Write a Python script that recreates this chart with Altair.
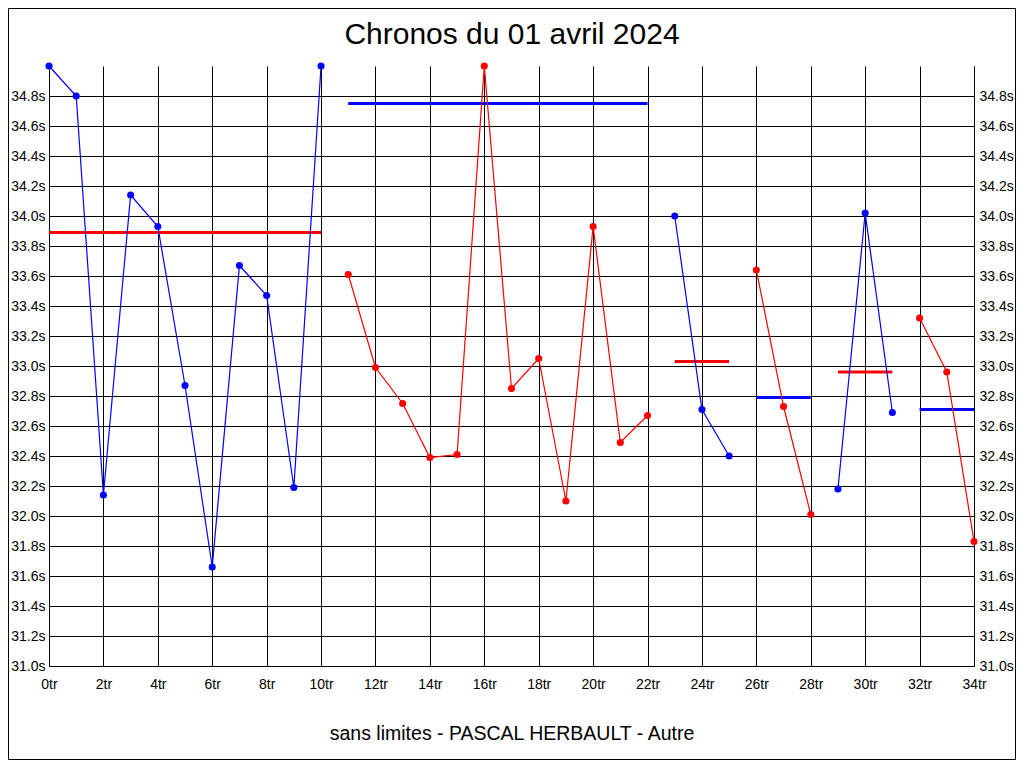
import altair as alt
import pandas as pd

# ---- data ----
laps = list(range(35))
times = [35.00, 34.80, 32.14, 34.14, 33.93, 32.87, 31.66, 33.67, 33.47, 32.19, 35.00,
         33.61, 32.99, 32.75, 32.39, 32.41, 35.00, 32.85, 33.05, 32.10, 33.93, 32.49, 32.67,
         34.00, 32.71, 32.40,
         33.64, 32.73, 32.01,
         32.18, 34.02, 32.69,
         33.32, 32.96, 31.83]
seg_start = [0, 11, 23, 26, 29, 32]
seg_end = [10, 22, 25, 28, 31, 34]
seg_color = ["#0000FF", "#FF0000", "#0000FF", "#FF0000", "#0000FF", "#FF0000"]
mean_time = [33.89, 34.75, 33.03, 32.79, 32.96, 32.71]
mean_color = ["#FF0000", "#0000FF", "#FF0000", "#0000FF", "#FF0000", "#0000FF"]
x_ticks = [0, 2, 4, 6, 8, 10, 12, 14, 16, 18, 20, 22, 24, 26, 28, 30, 32, 34]
y_ticks = [31.0, 31.2, 31.4, 31.6, 31.8, 32.0, 32.2, 32.4, 32.6, 32.8,
           33.0, 33.2, 33.4, 33.6, 33.8, 34.0, 34.2, 34.4, 34.6, 34.8]
title_text = ["Chronos du 01 avril 2024"]
subtitle_text = "sans limites - PASCAL HERBAULT - Autre"

rows = []
for s, (a, b) in enumerate(zip(seg_start, seg_end)):
    for lap in laps[a:b + 1]:
        rows.append({"tr": lap, "t": times[lap], "seg": s, "color": seg_color[s]})
pts = pd.DataFrame(rows)
means = pd.DataFrame({"tr": seg_start, "end": seg_end, "t": mean_time, "color": mean_color})

FONT = "Liberation Sans"
W, H = 925, 600
PL, PT, PR, PB = 41, 58, 42, 94

common = dict(gridColor="black", gridOpacity=1, gridWidth=1,
              domainColor="black", domainWidth=1, domainOpacity=1,
              labelColor="black", labelFont=FONT, labelFontSize=14,
              ticks=False, tickSize=0, labelFlush=False, labelOverlap=False)

x_enc = alt.X(
    "tr:Q",
    scale=alt.Scale(domain=[0, 34], nice=False, zero=False),
    axis=alt.Axis(values=x_ticks, labelExpr="datum.value + 'tr'", grid=True,
                  labelPadding=11, title=subtitle_text, titlePadding=33,
                  titleFontSize=19.5, titleFontWeight="normal", titleFont=FONT,
                  titleColor="black", **common),
)
y_scale = alt.Scale(domain=[31, 35], nice=False, zero=False)
y_left = alt.Y("t:Q", scale=y_scale,
               axis=alt.Axis(orient="left", values=y_ticks,
                             labelExpr="format(datum.value, '.1f') + 's'",
                             grid=True, labelPadding=4, title=None, **common))
y_right = alt.Y("t:Q", scale=y_scale,
                axis=alt.Axis(orient="right", values=y_ticks,
                              labelExpr="format(datum.value, '.1f') + 's'",
                              grid=False, labelPadding=5, title=None, **common))
y_none = alt.Y("t:Q", scale=y_scale, axis=None)
col = alt.Color("color:N", scale=None)

border = alt.Chart(pd.DataFrame({"k": [0]})).mark_rect(
    fillOpacity=0, stroke="black", strokeWidth=1
).encode(
    x=alt.value(-PL + 0.5), x2=alt.value(W + PR - 0.5),
    y=alt.value(-PT + 0.5), y2=alt.value(H + PB - 0.5),
)

title = alt.Chart(pd.DataFrame({"label": title_text})).mark_text(
    font=FONT, fontSize=30, color="black", align="center", baseline="alphabetic"
).encode(
    text="label:N", x=alt.value(W / 2 + 0.5), y=alt.value(-22)
)

rules = alt.Chart(means).mark_rule(strokeWidth=3).encode(
    x=x_enc, x2="end:Q", y=y_none, color=col
)
lines = alt.Chart(pts).mark_line(strokeWidth=1.2).encode(
    x=x_enc, y=y_left, detail="seg:N", color=col
)
points = alt.Chart(pts).mark_circle(size=50, opacity=1).encode(
    x=x_enc, y=y_right, color=col
)

chart = (
    alt.layer(border, title, rules, lines, points)
    .resolve_axis(y="independent")
    .properties(
        width=W, height=H,
        background="white",
        autosize=alt.AutoSizeParams(type="none"),
        padding={"left": PL, "top": PT, "right": PR, "bottom": PB},
    )
    .configure_view(strokeWidth=0)
)

chart.save("out.html", embed_options={"renderer": "svg", "actions": False})
